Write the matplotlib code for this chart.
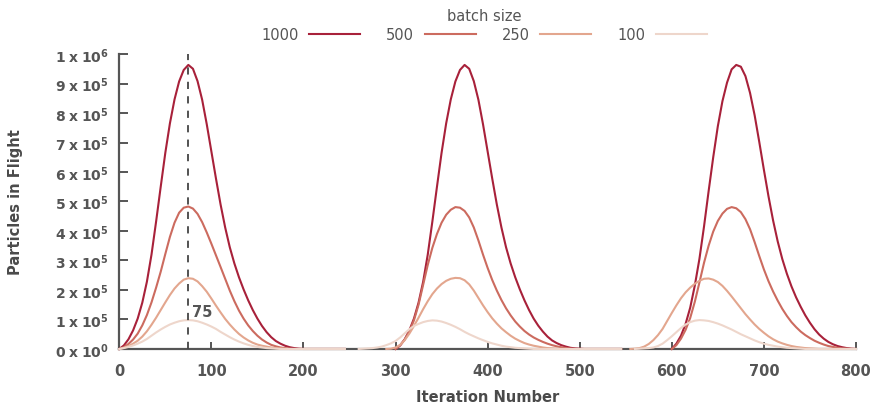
import numpy as np
import matplotlib
matplotlib.use("Agg")
import matplotlib.pyplot as plt

# iteration number, one sample every 5 iterations
iterations = list(range(0, 801, 5))

# particles in flight, in thousands (None = no line drawn)
flight_1000 = [
    0, 12, 33, 63, 103, 157, 228, 320, 432, 550, 665, 765, 846, 907, 946, 963, 950, 908, 845, 762,
    670, 578, 490, 412, 345, 290, 243, 202, 165, 132, 103, 78, 57, 40, 27, 18, 11, 6, 3, 1,
    0, 0, 0, 0, 0, 0, 0, 0, 0, 0, None, None, None, None, None, None, None, None, None, None,
    0, 12, 33, 63, 103, 157, 228, 320, 432, 550, 665, 765, 846, 907, 946, 963, 950, 908, 845, 762,
    670, 578, 490, 412, 345, 290, 243, 202, 165, 132, 103, 79, 59, 42, 29, 20, 13, 8, 4, 2,
    1, 0, 0, 0, 0, 0, 0, 0, 0, 0, None, None, None, None, None, None, None, None, None, None,
    0, 18, 45, 85, 140, 215, 305, 415, 535, 650, 755, 840, 903, 948, 963, 957, 925, 868, 792, 702,
    608, 518, 436, 365, 305, 255, 212, 175, 143, 114, 89, 67, 49, 35, 24, 16, 10, 6, 3, 1,
    0,
]
flight_500 = [
    0, 6, 17, 32, 52, 80, 115, 158, 208, 262, 322, 380, 428, 462, 479, 483, 476, 458, 430, 395,
    357, 318, 278, 238, 198, 162, 130, 103, 80, 61, 45, 32, 22, 14, 9, 5, 3, 1, 0, 0,
    0, 0, 0, 0, 0, 0, 0, 0, 0, 0, None, None, None, None, None, None, None, None, None, None,
    0, 12, 32, 60, 97, 150, 218, 285, 343, 390, 428, 455, 472, 481, 479, 468, 446, 412, 368, 320,
    275, 234, 198, 166, 138, 114, 93, 76, 61, 49, 39, 31, 24, 18, 13, 9, 6, 3, 1, 0,
    0, 0, 0, 0, 0, 0, 0, 0, 0, 0, None, None, None, None, None, None, None, None, None, None,
    0, 13, 35, 65, 105, 160, 225, 292, 350, 398, 434, 459, 475, 481, 477, 464, 440, 406, 362, 315,
    270, 230, 195, 164, 136, 112, 91, 74, 59, 47, 37, 28, 21, 15, 10, 7, 4, 2, 1, 0,
    0,
]
flight_250 = [
    0, 4, 10, 18, 28, 42, 60, 82, 106, 132, 158, 183, 205, 222, 235, 240, 238, 229, 213, 194,
    171, 147, 124, 102, 83, 66, 51, 39, 29, 21, 15, 11, 8, 5, 3, 2, 1, 0, 0, 0,
    0, 0, 0, 0, 0, 0, 0, 0, 0, 0, None, None, None, None, None, None, None, None, 0, 1,
    5, 14, 30, 52, 78, 106, 135, 162, 186, 205, 220, 231, 238, 241, 240, 233, 219, 198, 173, 148,
    125, 104, 86, 70, 57, 45, 35, 27, 20, 15, 11, 8, 5, 3, 2, 1, 0, 0, 0, 0,
    0, 0, 0, 0, 0, 0, 0, 0, 0, 0, None, 0, 1, 3, 8, 17, 30, 47, 68, 95,
    122, 148, 172, 192, 208, 221, 231, 238, 239, 235, 227, 214, 197, 178, 158, 138, 118, 100, 83, 68,
    55, 43, 33, 25, 19, 14, 10, 7, 5, 3, 2, 1, 0, 0, 0, 0, 0, 0, 0, 0,
    0,
]
flight_100 = [
    0, 3, 7, 12, 18, 25, 34, 45, 56, 66, 75, 83, 89, 94, 97, 98, 97, 94, 89, 83,
    76, 68, 58, 49, 40, 32, 25, 19, 14, 10, 7, 5, 3, 2, 1, 0, 0, 0, 0, 0,
    0, 0, 0, 0, 0, 0, 0, 0, 0, 0, None, None, 0, 1, 2, 3, 5, 8, 13, 19,
    27, 39, 53, 67, 78, 85, 91, 95, 97, 96, 93, 88, 82, 75, 67, 58, 50, 43, 36, 30,
    24, 19, 15, 11, 8, 6, 4, 3, 2, 1, 0, 0, 0, 0, 0, 0, 0, 0, 0, 0,
    0, 0, 0, 0, 0, 0, 0, 0, 0, 0, None, None, 0, 1, 2, 3, 5, 10, 18, 30,
    43, 57, 71, 83, 91, 96, 98, 97, 95, 91, 86, 80, 73, 66, 58, 50, 43, 36, 29, 23,
    18, 14, 11, 8, 6, 4, 3, 2, 1, 0, 0, 0, 0, 0, 0, 0, 0, 0, 0, 0,
    0,
]

batch_sizes = ["1000", "500", "250", "100"]
series = [flight_1000, flight_500, flight_250, flight_100]
colors = ["#a8213a", "#cc6b5f", "#e3a68e", "#eed6cb"]

marked_iteration = 75
x_ticks = list(range(0, 801, 100))
y_ticks = [k * 100000 for k in range(11)]
y_tick_labels = [r"$\mathbf{0\;x\;10^{0}}$"] + \
    [r"$\mathbf{%d\;x\;10^{5}}$" % k for k in range(1, 10)] + \
    [r"$\mathbf{1\;x\;10^{6}}$"]

plt.rcParams["font.family"] = "DejaVu Sans"
plt.rcParams["mathtext.fontset"] = "dejavusans"

axis_grey = "#555555"
text_grey = "#4a4a4a"

fig, ax = plt.subplots(figsize=(8.77, 4.06), dpi=100)
fig.subplots_adjust(left=0.136, right=0.976, bottom=0.138, top=0.8645)

for label, values, color in zip(batch_sizes, series, colors):
    y = np.array(values, dtype=float) * 1000
    ax.plot(iterations, y, color=color, lw=1.5, label=label,
            clip_on=False, zorder=3, solid_joinstyle="round")

ax.axvline(marked_iteration, color="#444444", lw=1.3, ls=(0, (4, 4)), zorder=4)
ax.text(marked_iteration + 4.5, 127000, str(marked_iteration), color=axis_grey,
        fontsize=10.5, fontweight="bold", ha="left", va="center")

ax.set_xlim(0, 800)
ax.set_ylim(0, 1000000)
ax.set_xticks(x_ticks)
ax.set_yticks(y_ticks)
ax.set_yticklabels(y_tick_labels)

for side in ["top", "right"]:
    ax.spines[side].set_visible(False)
for side in ["left", "bottom"]:
    ax.spines[side].set_color(axis_grey)
    ax.spines[side].set_linewidth(1.6)

ax.tick_params(axis="y", direction="in", length=6.5, width=1.4, color=axis_grey,
               labelcolor=axis_grey, labelsize=10, pad=7.5)
ax.tick_params(axis="x", direction="in", length=5, width=1.4, color=axis_grey,
               labelcolor=axis_grey, labelsize=10.5, pad=10)
for lbl in ax.get_xticklabels():
    lbl.set_fontweight("bold")

ax.set_xlabel("Iteration Number", fontsize=10.5, fontweight="bold", color=text_grey,
              va="baseline")
ax.set_ylabel("Particles in Flight", fontsize=10.5, fontweight="bold", color=text_grey)
ax.xaxis.set_label_coords(0.5, -0.178)
ax.yaxis.set_label_coords(-0.1303, 0.5)

leg = ax.legend(title="batch size", ncol=4, markerfirst=False, frameon=False,
                loc="upper center", bbox_to_anchor=(484 / 877, 0.9926),
                bbox_transform=fig.transFigure, fontsize=10.5, title_fontsize=10.5,
                handlelength=3.5, handletextpad=0.75, columnspacing=1.75,
                labelspacing=0.3, borderaxespad=0.2, borderpad=0.2)
for t in leg.get_texts():
    t.set_color(axis_grey)
leg.get_title().set_color(axis_grey)

fig.savefig("out.png", dpi=100)
